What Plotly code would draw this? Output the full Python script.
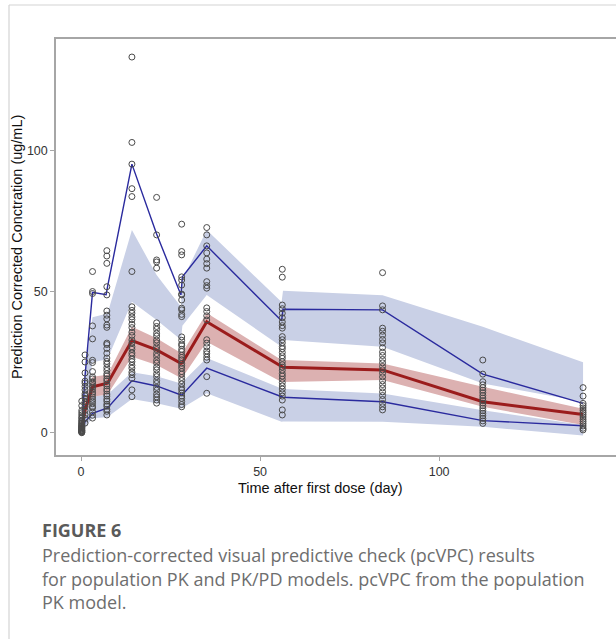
import plotly.graph_objects as go

# ---- binned summary (bin midpoints, day) ----
bin_time = [0.2, 1.1, 3.2, 7.0, 7.4, 14.2, 21.1, 27.9, 28.3, 35.1, 56.0, 56.4, 84.2, 112.2, 140.2]

# observed percentiles
obs_p95 = [1.6, 20.0, 49.8, 49.0, 51.8, 95.3, 70.5, 48.9, 55.3, 66.3, 39.7, 43.8, 43.6, 20.8, 10.4]
obs_p50 = [0.9, 8.0, 16.3, 17.4, 17.6, 32.7, 29.4, 24.6, 24.8, 39.4, 23.4, 23.2, 22.3, 11.0, 6.5]
obs_p05 = [0.6, 3.9, 6.9, 8.6, 8.8, 18.4, 16.6, 13.4, 13.5, 22.9, 12.6, 12.6, 11.0, 4.3, 2.5]

# simulated percentile confidence intervals (low, high)
ci95_lo = [1.2, 8.0, 25.0, 26.0, 26.2, 46.5, 40.0, 33.0, 38.0, 48.9, 30.5, 32.9, 30.5, 17.5, 11.0]
ci95_hi = [4.0, 22.0, 41.0, 42.0, 42.3, 71.9, 56.0, 44.7, 54.2, 71.9, 46.4, 50.4, 48.8, 37.6, 25.0]
ci50_lo = [0.3, 6.0, 12.8, 13.5, 13.6, 27.0, 24.0, 19.4, 19.6, 32.3, 18.0, 18.0, 18.7, 9.2, 2.7]
ci50_hi = [1.5, 11.0, 19.9, 20.5, 20.6, 37.6, 33.5, 28.3, 28.5, 42.5, 25.8, 25.8, 24.6, 16.3, 8.5]
ci05_lo = [0.0, 2.0, 5.1, 5.5, 5.6, 12.0, 10.5, 8.5, 9.0, 14.0, 3.9, 4.0, 3.9, 2.1, -1.0]
ci05_hi = [1.0, 6.0, 12.8, 13.5, 13.6, 21.5, 20.0, 17.5, 18.0, 26.5, 15.7, 15.5, 13.9, 8.0, 2.7]

# ---- prediction-corrected observations per nominal time ----
obs_time = [0.2, 1.1, 3.2, 7.2, 14.2, 21.1, 28.1, 35.1, 56.2, 84.2, 112.2, 140.2]
obs_conc = [
    [0.0, 0.2, 0.3, 0.5, 0.7, 0.8, 1.0, 1.3, 1.4, 1.7, 1.9, 2.1, 2.4, 2.5, 2.9, 3.3,
     3.5, 4.1, 4.4, 5.1, 5.5, 6.3, 7.1, 7.9, 9.6, 11.2],
    [3.4, 5.1, 6.4, 7.9, 9.2, 10.1, 10.9, 12.2, 13.1, 13.8, 15.2, 16.4, 17.6, 18.3,
     21.2, 25.1, 27.6],
    [57.2, 50.1, 49.4, 37.9, 33.3, 25.7, 24.9, 21.7, 19.8, 19.1, 18.1, 17.6, 16.7,
     16.1, 15.3, 14.4, 13.7, 12.7, 11.8, 11.1, 10.3, 9.3, 8.8, 7.4, 6.2, 5.2],
    [64.6, 62.7, 60.1, 51.8, 48.9, 43.2, 41.7, 40.4, 38.2, 37.4, 31.8, 31.3, 29.9,
     28.2, 26.5, 25.3, 24.4, 23.1, 22.1, 20.9, 20.2, 19.1, 18.4, 17.3, 16.6, 15.5,
     14.8, 13.7, 13.0, 11.9, 11.2, 10.1, 9.4, 8.3, 7.6, 6.3],
    [133.3, 103.0, 95.3, 86.6, 83.8, 57.2, 44.7, 43.4, 42.4, 41.1, 40.1, 38.5, 37.3,
     35.7, 34.5, 32.9, 31.9, 30.5, 29.6, 28.3, 27.4, 26.1, 25.2, 23.9, 22.9, 21.5,
     20.6, 19.3, 15.2, 12.8],
    [83.5, 70.2, 61.3, 60.6, 58.4, 39.0, 37.7, 36.7, 35.3, 34.3, 32.9, 31.9, 30.5,
     29.5, 28.1, 27.1, 25.7, 24.7, 23.3, 22.3, 20.9, 19.9, 18.5, 17.5, 16.1, 15.1,
     13.7, 12.7, 11.6, 10.5],
    [74.0, 64.3, 63.1, 55.3, 54.2, 52.4, 49.2, 48.9, 47.1, 44.2, 43.6, 42.0, 41.2,
     34.0, 32.8, 31.5, 30.9, 29.6, 28.8, 27.5, 26.7, 25.9, 24.6, 23.8, 22.9, 21.7,
     20.8, 19.6, 18.5, 17.3, 16.0, 15.2, 14.1, 13.0, 12.2, 11.1, 10.0, 9.2],
    [72.8, 70.2, 66.3, 63.8, 61.6, 60.0, 58.4, 53.6, 52.2, 51.3, 44.3, 43.0, 41.5,
     40.0, 33.0, 31.8, 30.5, 29.0, 28.0, 26.8, 25.8, 19.9, 14.0],
    [58.0, 55.2, 45.3, 44.0, 42.4, 40.8, 39.3, 38.0, 37.1, 34.1, 33.0, 31.9, 30.6,
     29.8, 28.5, 27.3, 26.4, 25.2, 24.1, 23.3, 22.2, 21.0, 20.1, 19.0, 17.8, 16.6,
     15.5, 14.2, 13.0, 11.6, 8.1, 6.3],
    [56.8, 45.0, 43.6, 37.1, 36.0, 34.6, 33.1, 31.9, 30.2, 28.6, 27.4, 26.0, 24.8,
     23.5, 22.3, 21.1, 19.8, 18.4, 17.1, 15.9, 14.5, 13.2, 11.8, 10.4, 9.2, 8.1],
    [25.8, 20.8, 18.1, 17.0, 16.0, 15.1, 14.2, 13.2, 12.3, 11.4, 10.5, 9.6, 8.7,
     7.8, 6.9, 6.0, 5.1, 4.2, 3.3],
    [16.0, 13.0, 10.4, 9.6, 8.8, 8.0, 7.2, 6.4, 5.6, 4.8, 4.0, 3.2, 2.4, 1.6, 1.0],
]

x_ticks = [0, 50, 100]
y_ticks = [0, 50, 100]

x_title = "Time after first dose (day)"
y_title = "Prediction Corrected Conctration (ug/mL)"
fig_label = "FIGURE 6"
caption_lines = [
    "Prediction-corrected visual predictive check (pcVPC) results",
    "for population PK and PK/PD models. pcVPC from the population",
    "PK model.",
]

BLUE_BAND = "#c9d0e6"
RED_BAND = "#dcb1b1"
BLUE_LINE = "#2a2a9e"
RED_LINE = "#9b1c1c"
AXIS_GREY = "#a6a6a6"

fig = go.Figure()


def band(lo, hi, color):
    fig.add_trace(go.Scatter(
        x=bin_time + bin_time[::-1],
        y=hi + lo[::-1],
        fill="toself", fillcolor=color, mode="lines",
        line=dict(width=0), hoverinfo="skip", showlegend=False))


band(ci95_lo, ci95_hi, BLUE_BAND)
band(ci05_lo, ci05_hi, BLUE_BAND)
band(ci50_lo, ci50_hi, RED_BAND)

for series, col, w in [(obs_p95, BLUE_LINE, 1.4), (obs_p05, BLUE_LINE, 1.4),
                       (obs_p50, RED_LINE, 3)]:
    fig.add_trace(go.Scatter(x=bin_time, y=series, mode="lines",
                             line=dict(color=col, width=w), showlegend=False))

px, py = [], []
for t, vals in zip(obs_time, obs_conc):
    px += [t] * len(vals)
    py += vals
fig.add_trace(go.Scatter(
    x=px, y=py, mode="markers", showlegend=False,
    marker=dict(symbol="circle-open", size=6, color="#4a4a4a",
                line=dict(width=1, color="#4a4a4a"))))

W, H = 616, 639
ML, MT, MB = 56, 39, 184
pw, ph = W - ML, H - MT - MB


def fx(p):
    return (p - ML) / pw


def fy(p):
    return (H - MB - p) / ph


SANS = "Liberation Sans, Arial, sans-serif"
axis_font = dict(family=SANS, size=12.5, color="#333333")
title_font = dict(family=SANS, size=14.5, color="#111111")
cap_font = dict(family="Open Sans, sans-serif", size=18, color="#6e6e6e")

annotations = [
    dict(text=x_title, xref="paper", yref="paper", x=fx(320), y=fy(488),
         xanchor="center", yanchor="middle", showarrow=False, font=title_font),
    dict(text=y_title, xref="paper", yref="paper", x=fx(17), y=fy(247),
         xanchor="center", yanchor="middle", textangle=-90, showarrow=False,
         font=title_font),
    dict(text="<b>" + fig_label + "</b>", xref="paper", yref="paper", x=fx(40),
         y=fy(530), xanchor="left", yanchor="middle", showarrow=False,
         font=dict(family="Open Sans, sans-serif", size=18, color="#5a5a5a")),
]
for i, line in enumerate(caption_lines):
    annotations.append(dict(text=line, xref="paper", yref="paper", x=fx(40),
                            y=fy(555 + 23.5 * i), xanchor="left", yanchor="middle",
                            showarrow=False, font=cap_font))

fig.update_layout(
    width=W, height=H,
    margin=dict(l=ML, r=0, t=MT, b=MB),
    paper_bgcolor="white", plot_bgcolor="white",
    xaxis=dict(range=[-7.0, 149.4], tickvals=x_ticks, ticks="outside", ticklen=4,
               tickcolor=AXIS_GREY, tickwidth=1, showgrid=False, zeroline=False,
               showline=True, linecolor=AXIS_GREY, linewidth=1.5, mirror=True,
               tickfont=axis_font),
    yaxis=dict(range=[-7.9, 139.7], tickvals=y_ticks, ticks="outside", ticklen=4,
               tickcolor=AXIS_GREY, tickwidth=1, showgrid=False, zeroline=False,
               showline=True, linecolor=AXIS_GREY, linewidth=1.5,
               tickfont=axis_font),
    shapes=[
        dict(type="line", xref="paper", yref="paper", x0=fx(9), x1=fx(9),
             y0=fy(5), y1=fy(639), line=dict(color="#d4d4d4", width=1.2)),
        dict(type="line", xref="paper", yref="paper", x0=fx(9), x1=fx(616),
             y0=fy(5), y1=fy(5), line=dict(color="#d4d4d4", width=1.2)),
    ],
    annotations=annotations,
)

fig.write_html("out.html")
